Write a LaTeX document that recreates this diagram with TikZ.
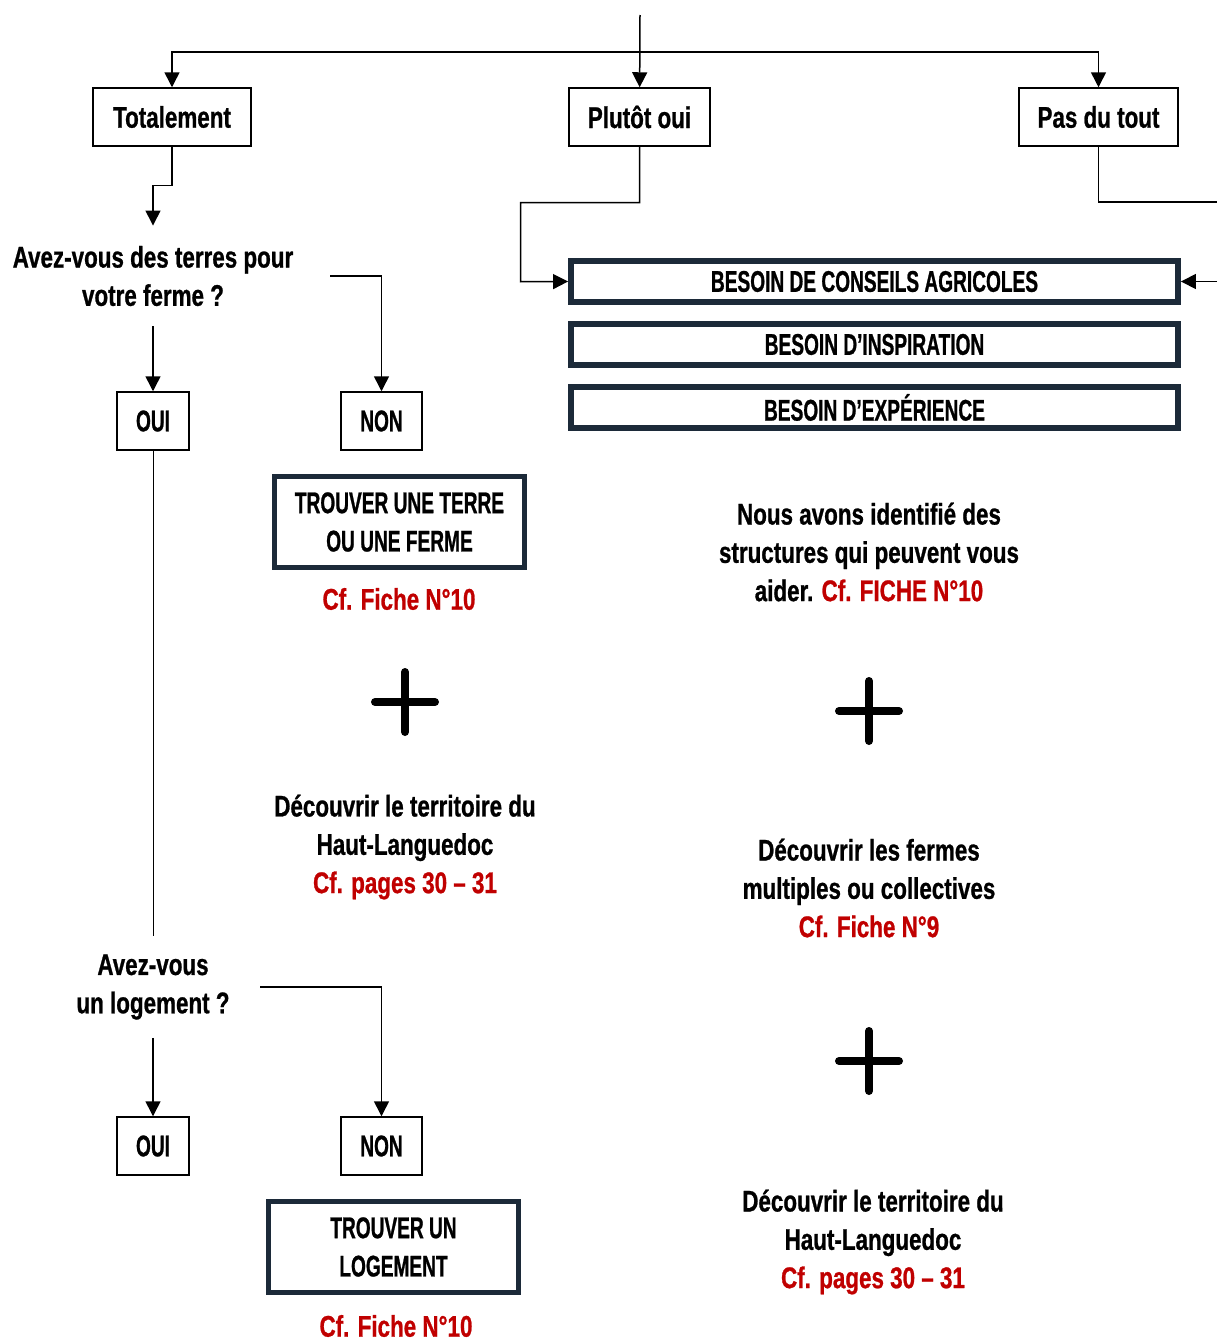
\documentclass[tikz,border=0pt]{standalone}
\usepackage{fontspec}
\setmainfont{Liberation Sans}[FakeStretch=0.75, FakeBold=0.8]
\newfontfamily\capsfont{Liberation Sans}[FakeStretch=0.64, FakeBold=0.8]
\usetikzlibrary{arrows.meta}
\definecolor{ficheRed}{HTML}{C00000}
\definecolor{boxNavy}{HTML}{1C2A39}
\newcommand{\txtsize}{\fontsize{17}{21.8}\selectfont\bfseries}

\begin{document}
\begin{tikzpicture}[x=0.02cm, y=-0.02cm, font=\txtsize,
  arr/.style={-{Triangle[width=0.3cm,length=0.3cm]}, line width=0.03cm},
  choice/.style={draw, line width=0.03cm, minimum height=1.16cm, inner sep=0pt},
  need/.style={draw=boxNavy, line width=0.12cm, minimum width=12.14cm, minimum height=0.82cm, inner sep=0pt, font=\txtsize\capsfont},
  todo/.style={draw=boxNavy, line width=0.1cm, minimum width=5cm, minimum height=1.82cm, inner sep=0pt, align=center, font=\txtsize\capsfont},
  fiche/.style={text=ficheRed},
  info/.style={align=flush center},
  plus/.style={line width=0.16cm, line cap=round}]
  \useasboundingbox (0,0) rectangle (1217,1342);
  % first answers
  \node[choice, minimum width=3.16cm] (tot) at (172,117) {Totalement};
  \node[choice, minimum width=2.82cm] (plu) at (639.5,117) {Plutôt oui};
  \node[choice, minimum width=3.18cm] (pas) at (1098.5,117) {Pas du tout};
  \coordinate (topin) at (640,15);
  \coordinate (split) at (640,52);
  \draw[arr] (topin) -- (plu);
  \draw[arr] (split) -| (tot);
  \draw[arr] (split) -| (pas);
  % left branch
  \node[info, text width=5.8cm, inner xsep=0.64cm, inner ysep=0.4cm] (q1) at (153,276) {Avez-vous des terres pour\\votre ferme ?};
  \draw[arr] (tot.south) -- ++(0,39) -| (q1.north);
  \node[choice, minimum width=1.44cm, font=\txtsize\capsfont] (oui1) at (153,421) {OUI};
  \node[choice, minimum width=1.62cm, font=\txtsize\capsfont] (non1) at (381.5,421) {NON};
  \draw[arr] (q1) -- (oui1);
  \draw[arr] (q1.east) -| (non1);
  \node[todo] (terre) at (399.5,522) {TROUVER UNE TERRE\\OU UNE FERME};
  \node[fiche] (terref) at (399,599) {Cf. Fiche N°10};
  \draw[plus] (375,702) -- (435,702) (405,672) -- (405,732);
  \node[info] (terri1) at (405,847) {Découvrir le territoire du\\Haut-Languedoc\\\textcolor{ficheRed}{Cf. pages 30 – 31}};
  \node[info, text width=3.2cm, inner xsep=0.54cm, inner ysep=0.36cm] (q2) at (153,987) {Avez-vous\\un logement ?};
  \draw (oui1) -- (q2);
  \node[choice, minimum width=1.44cm, font=\txtsize\capsfont] (oui2) at (153,1146) {OUI};
  \node[choice, minimum width=1.62cm, font=\txtsize\capsfont] (non2) at (381.5,1146) {NON};
  \draw[arr] (q2) -- (oui2);
  \draw[arr] (q2.east) -| (non2);
  \node[todo] (loge) at (393.5,1247) {TROUVER UN\\LOGEMENT};
  \node[fiche] (logef) at (396,1326) {Cf. Fiche N°10};
  % right branch
  \node[need] (b1) at (874.5,281.5) {BESOIN DE CONSEILS AGRICOLES};
  \node[need] (b2) at (874.5,344.5) {BESOIN D’INSPIRATION};
  \node[need] (b3) at (874.5,407.5) {BESOIN D’EXPÉRIENCE};
  \draw[arr] (plu.south) -- ++(0,56) -| ++(-119,79) -- (b1.west);
  \coordinate (exitR) at (1217,202);
  \coordinate (entryR) at (1217,281.5);
  \draw[line width=0.03cm] (pas) |- (exitR);
  \draw[arr] (entryR) -- (b1);
  \node[info] (ident) at (869,552) {Nous avons identifié des\\structures qui peuvent vous\\aider. \textcolor{ficheRed}{Cf. FICHE N°10}};
  \draw[plus] (839,711) -- (899,711) (869,681) -- (869,741);
  \node[info] (fermes) at (869,888) {Découvrir les fermes\\multiples ou collectives\\\textcolor{ficheRed}{Cf. Fiche N°9}};
  \draw[plus] (839,1061) -- (899,1061) (869,1031) -- (869,1091);
  \node[info] (terri2) at (873,1242) {Découvrir le territoire du\\Haut-Languedoc\\\textcolor{ficheRed}{Cf. pages 30 – 31}};
\end{tikzpicture}
\end{document}
